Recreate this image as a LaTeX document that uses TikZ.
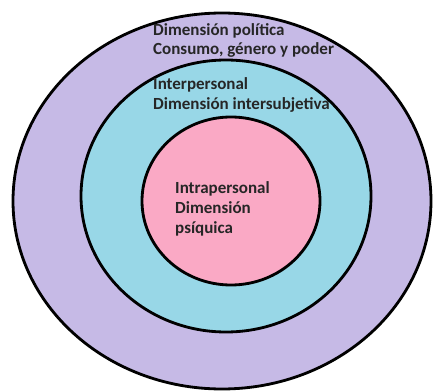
\documentclass[tikz,border=0pt]{standalone}
\usepackage{fontspec}
\setmainfont{Carlito}
\definecolor{lavanda}{RGB}{198,186,230}
\definecolor{celeste}{RGB}{152,215,231}
\definecolor{rosa}{RGB}{250,169,197}

\begin{document}
\begin{tikzpicture}[
  x=0.03cm, y=-0.03cm,
  ring/.style={draw=black, line width=2.4pt},
  lbl/.style={anchor=base west, align=left, inner sep=0pt, text=black!85,
              font=\bfseries\fontsize{14.5}{17}\selectfont}
]
\useasboundingbox (0,0) rectangle (438,392);

\filldraw[ring, fill=lavanda] (222,201) ellipse [x radius=209, y radius=188];
\filldraw[ring, fill=celeste] (226,196) ellipse [x radius=145, y radius=136];
\filldraw[ring, fill=rosa]    (231,201) ellipse [x radius=89,  y radius=84];

% anchor is the baseline of the last line
\node[lbl] (politica) at (153,55)  {Dimensión política\\Consumo, género y poder};
\node[lbl] (inter)    at (153,109) {Interpersonal\\Dimensión intersubjetiva};
\node[lbl] (intra)    at (175,233) {Intrapersonal\\Dimensión\\psíquica};

\end{tikzpicture}
\end{document}
